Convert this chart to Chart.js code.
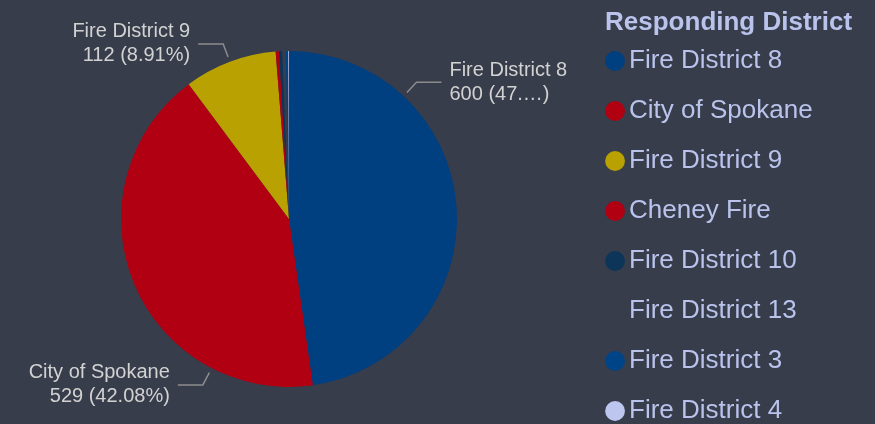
<!DOCTYPE html>
<html>
<head>
<meta charset="utf-8">
<script src="https://cdn.jsdelivr.net/npm/chart.js@4"></script>
<style>
  html, body { margin: 0; padding: 0; background: #373d4b; }
  #wrap { width: 875px; height: 424px; }
</style>
</head>
<body>
<div id="wrap"><canvas id="districtChart" width="875" height="424"></canvas></div>
<script>
const districts = ['Fire District 8', 'City of Spokane', 'Fire District 9', 'Cheney Fire', 'Fire District 10', 'Fire District 13', 'Fire District 3', 'Fire District 4'];
const calls = [600, 529, 112, 4, 4, 4, 3, 1];
const sliceColors = ['#003f80', '#b10012', '#b8a100', '#b10012', '#0c3559', '#373d4b', '#004488', '#bcc6ee'];
// only the big slices get an outside label; anchor = fraction along the slice
const labelled = [0, 1, 2];
const labelAnchor = [0.25, 0.235, 0.5];

const legendColor = '#b9c3ec';
const font = 'Arial, "Liberation Sans", sans-serif';

function fitText(ctx, text, maxW) {
    if (!maxW || ctx.measureText(text).width <= maxW) return text;
    let t = text;
    while (t.length > 1 && ctx.measureText(t + '\u2026)').width > maxW) t = t.slice(0, -1);
    return t + '\u2026)';
}

const outsideLabels = {
    id: 'outsideLabels',
    afterDatasetsDraw(chart) {
        const ctx = chart.ctx;
        const arcs = chart.getDatasetMeta(0).data;
        const total = calls.reduce((a, b) => a + b, 0);
        ctx.save();
        ctx.font = '20px ' + font;
        ctx.textBaseline = 'middle';
        labelled.forEach((i, k) => {
            const arc = arcs[i];
            const a = arc.startAngle + labelAnchor[k] * (arc.endAngle - arc.startAngle);
            const r = arc.outerRadius;
            const cx = arc.x, cy = arc.y;
            const p0 = [cx + Math.cos(a) * (r + 5), cy + Math.sin(a) * (r + 5)];
            const p1 = [cx + Math.cos(a) * (r + 19), cy + Math.sin(a) * (r + 19)];
            const side = Math.cos(a) >= 0 ? 1 : -1;
            const p2 = [p1[0] + side * 25, p1[1]];
            ctx.strokeStyle = '#8c8c8c';
            ctx.lineWidth = 1.5;
            ctx.beginPath();
            ctx.moveTo(p0[0], p0[1]);
            ctx.lineTo(p1[0], p1[1]);
            ctx.lineTo(p2[0], p2[1]);
            ctx.stroke();
            const pct = (calls[i] / total * 100).toFixed(2) + '%';
            let line2 = calls[i] + ' (' + pct + ')';
            if (side > 0) line2 = fitText(ctx, line2, 106);
            const tx = p2[0] + side * 8;
            ctx.fillStyle = '#d2d2d2';
            ctx.textAlign = side > 0 ? 'left' : 'right';
            ctx.fillText(districts[i], tx, p1[1] - 12);
            ctx.fillText(line2, tx, p1[1] + 12);
        });
        ctx.restore();
    }
};

// nudge the legend right, stretch it to the top and widen it so the title isn't clipped
const legendNudge = {
    id: 'legendNudge',
    afterLayout(chart) {
        const lg = chart.legend;
        lg.left += 12;
        lg.width = 277;
        lg.right = lg.left + lg.width;
        lg.top = 0;
        lg.height = lg.bottom;
    }
};

new Chart(document.getElementById('districtChart').getContext('2d'), {
    type: 'pie',
    data: {
        labels: districts,
        datasets: [{
            data: calls,
            backgroundColor: sliceColors,
            borderWidth: 0,
            radius: 168
        }]
    },
    options: {
        responsive: false,
        animation: false,
        devicePixelRatio: 1,
        layout: { padding: { top: 14, left: 0, right: 64.4, bottom: -60 } },
        plugins: {
            tooltip: { enabled: false },
            legend: {
                position: 'right',
                align: 'start',
                title: {
                    display: true,
                    position: 'center',
                    text: 'Responding District',
                    color: legendColor,
                    font: { size: 26, weight: 'bold', family: font },
                    padding: { top: 10, bottom: -17.2 }
                },
                labels: {
                    usePointStyle: true,
                    pointStyle: 'circle',
                    boxWidth: 2,
                    boxHeight: 14,
                    padding: 24,
                    color: legendColor,
                    font: { size: 26, family: font }
                }
            }
        }
    },
    plugins: [outsideLabels, legendNudge]
});
</script>
</body>
</html>
